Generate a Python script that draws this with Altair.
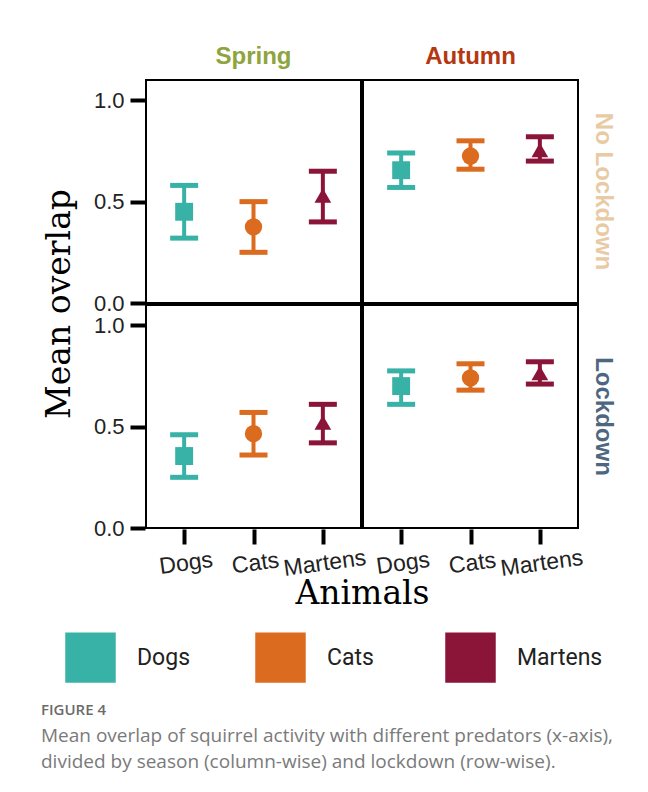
import altair as alt
import pandas as pd

# ---- data ----
animals = ["Dogs", "Cats", "Martens"]
animal_colors = ["#38b2a6", "#db6b1f", "#8a1538"]
animal_shapes = ["square", "circle", "triangle-up"]
animal_sizes = [320, 280, 430]
seasons = ["Spring", "Autumn"]
lockdowns = ["No Lockdown", "Lockdown"]

season_col = ["Spring", "Spring", "Spring", "Spring", "Spring", "Spring",
              "Autumn", "Autumn", "Autumn", "Autumn", "Autumn", "Autumn"]
lockdown_col = ["No Lockdown", "No Lockdown", "No Lockdown", "Lockdown", "Lockdown", "Lockdown",
                "No Lockdown", "No Lockdown", "No Lockdown", "Lockdown", "Lockdown", "Lockdown"]
animal_col = ["Dogs", "Cats", "Martens", "Dogs", "Cats", "Martens",
              "Dogs", "Cats", "Martens", "Dogs", "Cats", "Martens"]
mean_overlap = [0.45, 0.375, 0.53, 0.355, 0.465, 0.52,
                0.655, 0.725, 0.755, 0.70, 0.74, 0.765]
lower_ci = [0.32, 0.25, 0.40, 0.25, 0.36, 0.42,
            0.57, 0.66, 0.70, 0.61, 0.68, 0.71]
upper_ci = [0.58, 0.50, 0.65, 0.46, 0.57, 0.61,
            0.74, 0.80, 0.82, 0.775, 0.81, 0.82]

caption_title = "FIGURE 4"
caption_lines = [
    "Mean overlap of squirrel activity with different predators (x-axis),",
    "divided by season (column-wise) and lockdown (row-wise).",
]

df = pd.DataFrame({
    "season": season_col,
    "lockdown": lockdown_col,
    "animal": animal_col,
    "mean": mean_overlap,
    "lower": lower_ci,
    "upper": upper_ci,
})

color_scale = alt.Scale(domain=animals, range=animal_colors)
x_enc = alt.X("animal:N", sort=animals,
              scale=alt.Scale(type="point", padding=0.55),
              axis=alt.Axis(title=None))
y_scale = alt.Scale(domain=[0, 1.1], nice=False)
y_axis = alt.Axis(title=None, values=[0, 0.5, 1.0], format=".1f")

legend = alt.Legend(
    orient="none", legendX=-81, legendY=552,
    direction="horizontal", columns=3, title=None,
    symbolType="square", symbolSize=2550, symbolStrokeWidth=0,
    symbolOpacity=1, labelFont="Roboto", labelFontSize=23,
    labelColor="#222222", labelOffset=21, columnPadding=32,
    gridAlign="all", padding=0,
)

points = alt.Chart().mark_point(filled=True, opacity=1, strokeWidth=0).encode(
    x=x_enc,
    y=alt.Y("mean:Q", scale=y_scale, axis=y_axis),
    color=alt.Color("animal:N", sort=animals, scale=color_scale, legend=legend),
    shape=alt.Shape("animal:N", sort=animals,
                    scale=alt.Scale(range=animal_shapes), legend=None),
    size=alt.Size("animal:N", sort=animals,
                  scale=alt.Scale(range=animal_sizes), legend=None),
)

base = alt.Chart().encode(
    x=x_enc,
    color=alt.Color("animal:N", sort=animals, scale=color_scale),
)
stems = base.mark_rule(strokeWidth=4).encode(
    y=alt.Y("lower:Q", scale=y_scale, axis=y_axis),
    y2="upper:Q",
)
caps_lo = base.mark_tick(size=28, thickness=5, opacity=1).encode(
    y=alt.Y("lower:Q", scale=y_scale, axis=y_axis)
)
caps_hi = base.mark_tick(size=28, thickness=5, opacity=1).encode(
    y=alt.Y("upper:Q", scale=y_scale, axis=y_axis)
)

layered = alt.layer(points, stems, caps_lo, caps_hi, data=df).properties(
    width=215, height=223
)

facet = layered.facet(
    row=alt.Row(
        "lockdown:N", sort=lockdowns,
        header=alt.Header(
            title="Mean overlap", titleOrient="left", titleFont="DejaVu Serif",
            titleFontSize=33, titleFontWeight="normal", titleColor="black",
            titlePadding=6,
            labelOrient="right", labelAngle=90, labelFont="Liberation Sans",
            labelFontSize=24, labelFontWeight="bold", labelPadding=12,
            labelColor=alt.ExprRef(
                expr="parent['lockdown'] === 'Lockdown' ? '#4d6780' : '#e8caa4'"
            ),
        ),
    ),
    column=alt.Column(
        "season:N", sort=seasons,
        header=alt.Header(
            title=None, labelOrient="top", labelFont="Liberation Sans",
            labelFontSize=24, labelFontWeight="bold", labelPadding=10,
            labelColor=alt.ExprRef(
                expr="parent['season'] === 'Spring' ? '#8fa33e' : '#b5370f'"
            ),
        ),
    ),
    spacing=0,
).properties(
    title=alt.TitleParams(
        "Animals", orient="bottom", anchor="middle", font="DejaVu Serif",
        fontSize=33, fontWeight="normal", color="black", offset=-3, dx=33,
    )
)

chart = alt.vconcat(
    facet,
    title=alt.TitleParams(
        caption_title, subtitle=caption_lines, orient="bottom", anchor="start",
        font="Open Sans", fontSize=15, fontWeight=600, color="#6b6b6b",
        subtitleFont="Open Sans", subtitleFontSize=19, subtitleColor="#7a7a7a",
        subtitleLineHeight=26, subtitlePadding=9, offset=20, dx=-3,
    ),
    padding={"left": 32, "top": 37, "right": 10, "bottom": 6},
).configure_view(
    stroke="black", strokeWidth=2
).configure_axis(
    grid=False, domain=False, tickColor="black", tickWidth=4, tickSize=15,
    labelFont="Liberation Sans", labelFontSize=22, labelColor="#222222",
    labelPadding=6,
).configure_axisX(
    labelAngle=352, labelAlign="center", labelBaseline="top", labelPadding=8,
    labelFontSize=23,
)

chart.save("out.html", embed_options={"renderer": "svg", "actions": False})
